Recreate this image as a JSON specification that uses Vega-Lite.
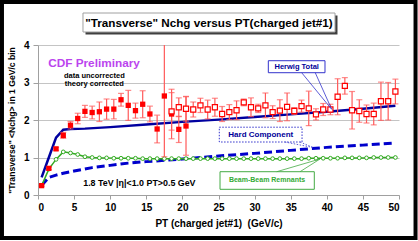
{
  "$schema": "https://vega.github.io/schema/vega-lite/v6.json",
  "autosize": {"type": "none"},
  "width": 361,
  "height": 150,
  "padding": {"left": 38, "top": 45, "right": 19, "bottom": 46},
  "background": "white",
  "config": {
    "view": {"stroke": null},
    "font": "Liberation Sans",
    "axisX": {"values": [0,5,10,15,20,25,30,35,40,45,50], "grid": false, "domainColor": "#A0A0A0", "tickColor": "#A0A0A0", "tickSize": 4, "labelFontSize": 10, "labelFontWeight": "bold", "labelColor": "black", "labelPadding": 3, "titleFontSize": 10, "titleFontWeight": "bold", "titleColor": "black", "titlePadding": 6},
    "axisY": {"values": [0,1,2,3,4], "grid": true, "gridColor": "#C4C4C4", "domainColor": "#A0A0A0", "tickColor": "#A0A0A0", "tickSize": 5, "labelFontSize": 10, "labelFontWeight": "bold", "labelColor": "black", "labelPadding": 4, "titleFontSize": 8.6, "titleFontWeight": "bold", "titleColor": "black", "titlePadding": 7}
  },
  "datasets": {
    "note": [{"pt": 0, "v": 0}],
    "cdf": [
      {"pt":0.5,"v":0.25,"e":0.02,"kind":"filled"},
      {"pt":1.5,"v":0.71,"e":0.03,"kind":"filled"},
      {"pt":2.5,"v":1.23,"e":0.04,"kind":"filled"},
      {"pt":3.5,"v":1.59,"e":0.08,"kind":"filled"},
      {"pt":4.5,"v":1.86,"e":0.1,"kind":"filled"},
      {"pt":5.5,"v":2.04,"e":0.14,"kind":"filled"},
      {"pt":6.5,"v":2.23,"e":0.16,"kind":"filled"},
      {"pt":7.5,"v":2.2,"e":0.17,"kind":"filled"},
      {"pt":8.5,"v":2.22,"e":0.26,"kind":"filled"},
      {"pt":9.5,"v":2.29,"e":0.27,"kind":"filled"},
      {"pt":10.5,"v":2.29,"e":0.26,"kind":"filled"},
      {"pt":11.5,"v":2.54,"e":0.17,"kind":"filled"},
      {"pt":12.5,"v":2.39,"e":0.4,"kind":"filled"},
      {"pt":13.5,"v":2.25,"e":0.2,"kind":"filled"},
      {"pt":14.5,"v":2.42,"e":0.36,"kind":"filled"},
      {"pt":15.5,"v":2.16,"e":0.21,"kind":"filled"},
      {"pt":16.5,"v":1.76,"e":0.37,"kind":"filled"},
      {"pt":17.5,"v":2.64,"e":1.62,"kind":"filled"},
      {"pt":18.5,"v":2.16,"e":0.66,"kind":"filled"},
      {"pt":19.5,"v":1.75,"e":0.35,"kind":"filled"},
      {"pt":20.5,"v":1.84,"e":0.78,"kind":"filled"},
      {"pt":18.5,"v":2.23,"e":0.5,"kind":"open"},
      {"pt":19.5,"v":2.34,"e":0.25,"kind":"open"},
      {"pt":20.5,"v":2.3,"e":0.33,"kind":"open"},
      {"pt":21.5,"v":2.28,"e":0.2,"kind":"open"},
      {"pt":22.5,"v":2.39,"e":0.19,"kind":"open"},
      {"pt":23.5,"v":2.28,"e":0.25,"kind":"open"},
      {"pt":24.5,"v":2.34,"e":0.24,"kind":"open"},
      {"pt":25.5,"v":2.16,"e":0.2,"kind":"open"},
      {"pt":26.5,"v":2.21,"e":0.2,"kind":"open"},
      {"pt":27.5,"v":2.26,"e":0.25,"kind":"open"},
      {"pt":28.5,"v":2.47,"e":0.09,"kind":"open"},
      {"pt":29.5,"v":2.34,"e":0.25,"kind":"open"},
      {"pt":30.5,"v":2.31,"e":0.11,"kind":"open"},
      {"pt":31.5,"v":2.39,"e":0.33,"kind":"open"},
      {"pt":32.5,"v":2.21,"e":0.17,"kind":"open"},
      {"pt":33.5,"v":2.25,"e":0.29,"kind":"open"},
      {"pt":34.5,"v":2.35,"e":0.37,"kind":"open"},
      {"pt":35.5,"v":2.24,"e":0.09,"kind":"open"},
      {"pt":36.5,"v":2.37,"e":0.16,"kind":"open"},
      {"pt":37.5,"v":2.31,"e":0.46,"kind":"open"},
      {"pt":38.5,"v":2.15,"e":0.15,"kind":"open"},
      {"pt":39.5,"v":2.28,"e":0.16,"kind":"open"},
      {"pt":40.5,"v":2.28,"e":0.14,"kind":"open"},
      {"pt":41.5,"v":2.62,"e":0.48,"kind":"open"},
      {"pt":42.5,"v":2.91,"e":0.22,"kind":"open"},
      {"pt":43.5,"v":2.26,"e":0.5,"kind":"open"},
      {"pt":44.5,"v":2.24,"e":0.3,"kind":"open"},
      {"pt":45.5,"v":2.16,"e":0.24,"kind":"open"},
      {"pt":46.5,"v":2.16,"e":0.29,"kind":"open"},
      {"pt":47.5,"v":2.5,"e":0.51,"kind":"open"},
      {"pt":48.5,"v":2.5,"e":0.5,"kind":"open"},
      {"pt":49.5,"v":2.76,"e":0.33,"kind":"open"}
    ],
    "herwig": [
      {"pt":0.5,"v":0.47},{"pt":1.5,"v":1.0},{"pt":2.5,"v":1.53},{"pt":3.5,"v":1.74},{"pt":4.5,"v":1.76},{"pt":6.5,"v":1.77},{"pt":10,"v":1.81},{"pt":15,"v":1.88},{"pt":20,"v":1.95},{"pt":25,"v":2.01},{"pt":30,"v":2.08},{"pt":35,"v":2.15},{"pt":40,"v":2.22},{"pt":45,"v":2.3},{"pt":49.5,"v":2.38}
    ],
    "hard": [
      {"pt":0.5,"v":0.25},{"pt":1.5,"v":0.47},{"pt":2.5,"v":0.53},{"pt":3.5,"v":0.58},{"pt":5,"v":0.64},{"pt":7.5,"v":0.73},{"pt":10,"v":0.79},{"pt":12.5,"v":0.85},{"pt":15,"v":0.89},{"pt":20,"v":0.96},{"pt":25,"v":1.04},{"pt":30,"v":1.11},{"pt":35,"v":1.19},{"pt":40,"v":1.27},{"pt":45,"v":1.33},{"pt":49.5,"v":1.39}
    ],
    "bbr": [
      {"pt":0.5,"v":0.25},{"pt":1.5,"v":0.69},{"pt":2.5,"v":0.95},{"pt":3.5,"v":1.15},{"pt":4.5,"v":1.12},{"pt":5.5,"v":1.08},{"pt":6.5,"v":1.02},{"pt":7.5,"v":1.0},{"pt":8.5,"v":0.99},{"pt":9.5,"v":0.99},
      {"pt":10.5,"v":0.98},{"pt":11.5,"v":0.98},{"pt":12.5,"v":0.98},{"pt":13.5,"v":0.98},{"pt":14.5,"v":0.97},{"pt":15.5,"v":0.97},{"pt":16.5,"v":0.97},{"pt":17.5,"v":0.97},{"pt":18.5,"v":0.97},{"pt":19.5,"v":0.97},
      {"pt":20.5,"v":0.97},{"pt":21.5,"v":0.97},{"pt":22.5,"v":0.97},{"pt":23.5,"v":0.97},{"pt":24.5,"v":0.97},{"pt":25.5,"v":0.97},{"pt":26.5,"v":0.97},{"pt":27.5,"v":0.97},{"pt":28.5,"v":0.97},{"pt":29.5,"v":0.97},
      {"pt":30.5,"v":0.97},{"pt":31.5,"v":0.97},{"pt":32.5,"v":0.97},{"pt":33.5,"v":0.97},{"pt":34.5,"v":0.97},{"pt":35.5,"v":0.97},{"pt":36.5,"v":0.97},{"pt":37.5,"v":0.98},{"pt":38.5,"v":0.98},{"pt":39.5,"v":0.98},
      {"pt":40.5,"v":0.98},{"pt":41.5,"v":0.98},{"pt":42.5,"v":0.99},{"pt":43.5,"v":0.99},{"pt":44.5,"v":0.99},{"pt":45.5,"v":0.99},{"pt":46.5,"v":1.0},{"pt":47.5,"v":1.0},{"pt":48.5,"v":1.0},{"pt":49.5,"v":1.0}
    ]
  },
  "encoding": {
    "x": {"field": "pt", "type": "quantitative", "scale": {"domain": [0, 50], "nice": false}, "axis": {"title": "PT (charged jet#1)\u00a0 (GeV/c)"}},
    "y": {"field": "v", "type": "quantitative", "scale": {"domain": [0, 4], "nice": false}, "axis": {"title": "\"Transverse\" <Nchg> in 1 GeV/c bin"}}
  },
  "layer": [
    {"data": {"name": "note"}, "mark": {"type": "rect", "filled": false, "stroke": "black", "strokeWidth": 4, "clip": false},
     "encoding": {"x": {"datum": -4.99, "type": "quantitative"}, "x2": {"datum": 52.29}, "y": {"datum": 5.147, "type": "quantitative"}, "y2": {"datum": -1.147}}},
    {"data": {"name": "note"}, "mark": {"type": "rect", "fill": "#404040", "clip": false},
     "encoding": {"x": {"datum": 6.58, "type": "quantitative"}, "x2": {"datum": 41.48}, "y": {"datum": 4.787, "type": "quantitative"}, "y2": {"datum": 4.28}}},
    {"data": {"name": "note"}, "mark": {"type": "rect", "fill": "white", "stroke": "#A0A0A0", "strokeWidth": 1, "clip": false},
     "encoding": {"x": {"datum": 6.23, "type": "quantitative"}, "x2": {"datum": 41.14}, "y": {"datum": 4.853, "type": "quantitative"}, "y2": {"datum": 4.347}}},
    {"data": {"name": "note"}, "mark": {"type": "text", "text": "\"Transverse\" Nchg versus PT(charged jet#1)", "fontSize": 11.7, "fontWeight": "bold", "color": "black", "clip": false},
     "encoding": {"x": {"datum": 23.68, "type": "quantitative"}, "y": {"datum": 4.6, "type": "quantitative"}}},
    {"data": {"name": "note"}, "mark": {"type": "text", "text": "CDF Preliminary", "fontSize": 11.8, "fontWeight": "bold", "color": "#BB44EE"},
     "encoding": {"x": {"datum": 7.76, "type": "quantitative"}, "y": {"datum": 3.512, "type": "quantitative"}}},
    {"data": {"name": "note"}, "mark": {"type": "text", "text": "data uncorrected", "fontSize": 7.5, "fontWeight": "bold", "color": "black"},
     "encoding": {"x": {"datum": 7.8, "type": "quantitative"}, "y": {"datum": 3.181, "type": "quantitative"}}},
    {"data": {"name": "note"}, "mark": {"type": "text", "text": "theory corrected", "fontSize": 7.5, "fontWeight": "bold", "color": "black"},
     "encoding": {"x": {"datum": 7.8, "type": "quantitative"}, "y": {"datum": 2.952, "type": "quantitative"}}},
    {"data": {"name": "note"}, "mark": {"type": "text", "text": "1.8 TeV |η|<1.0 PT>0.5 GeV", "fontSize": 8.9, "fontWeight": "bold", "color": "black"},
     "encoding": {"x": {"datum": 14.04, "type": "quantitative"}, "y": {"datum": 0.312, "type": "quantitative"}}},
    {"data": {"name": "hard"}, "mark": {"type": "line", "color": "#0000CC", "strokeWidth": 3, "strokeDash": [8, 4]}},
    {"data": {"name": "herwig"}, "mark": {"type": "line", "color": "#0000A0", "strokeWidth": 2.5}},
    {"data": {"name": "bbr"}, "mark": {"type": "line", "color": "#33AA22", "strokeWidth": 1.5}},
    {"data": {"name": "bbr"}, "mark": {"type": "point", "shape": "circle", "size": 14, "fill": "white", "filled": true, "stroke": "#33AA22", "strokeWidth": 1, "opacity": 1}},
    {"data": {"name": "cdf"}, "mark": {"type": "errorbar", "color": "#FF5A5A", "thickness": 1.2, "ticks": {"size": 6, "thickness": 1.2, "color": "#FF5A5A"}, "clip": true},
     "encoding": {"yError": {"field": "e"}}},
    {"data": {"name": "cdf"}, "transform": [{"filter": "datum.kind == 'filled'"}], "mark": {"type": "square", "size": 28, "color": "#FF0000", "opacity": 1}},
    {"data": {"name": "cdf"}, "transform": [{"filter": "datum.kind == 'open'"}], "mark": {"type": "point", "shape": "square", "size": 26, "filled": true, "fill": "white", "stroke": "#FF0000", "strokeWidth": 1.2, "opacity": 1}},
    {"data": {"name": "note"}, "mark": {"type": "rect", "fill": "white", "stroke": "#3333CC", "strokeWidth": 1},
     "encoding": {"x": {"datum": 31.9, "type": "quantitative"}, "x2": {"datum": 39.75}, "y": {"datum": 3.581, "type": "quantitative"}, "y2": {"datum": 3.261}}},
    {"data": {"name": "note"}, "mark": {"type": "text", "text": "Herwig Total", "fontSize": 7.5, "fontWeight": "bold", "color": "#000099"},
     "encoding": {"x": {"datum": 35.83, "type": "quantitative"}, "y": {"datum": 3.42, "type": "quantitative"}}},
    {"data": {"name": "note"}, "mark": {"type": "rule", "stroke": "#3333CC", "strokeWidth": 0.8},
     "encoding": {"x": {"datum": 36.52, "type": "quantitative"}, "y": {"datum": 3.261, "type": "quantitative"}, "x2": {"datum": 40.68}, "y2": {"datum": 2.285}}},
    {"data": {"name": "note"}, "mark": {"type": "rule", "stroke": "#3333CC", "strokeWidth": 0.8},
     "encoding": {"x": {"datum": 38.4, "type": "quantitative"}, "y": {"datum": 3.261, "type": "quantitative"}, "x2": {"datum": 40.68}, "y2": {"datum": 2.285}}},
    {"data": {"name": "note"}, "mark": {"type": "rect", "fill": "white", "stroke": "#3333CC", "strokeWidth": 1, "strokeDash": [1.5, 1.5]},
     "encoding": {"x": {"datum": 25.11, "type": "quantitative"}, "x2": {"datum": 36.57}, "y": {"datum": 1.808, "type": "quantitative"}, "y2": {"datum": 1.413}}},
    {"data": {"name": "note"}, "mark": {"type": "text", "text": "Hard Component", "fontSize": 8, "fontWeight": "bold", "color": "#000099"},
     "encoding": {"x": {"datum": 30.85, "type": "quantitative"}, "y": {"datum": 1.613, "type": "quantitative"}}},
    {"data": {"name": "note"}, "mark": {"type": "rule", "stroke": "#3333CC", "strokeWidth": 0.8, "strokeDash": [1.5, 1.5]},
     "encoding": {"x": {"datum": 34.2, "type": "quantitative"}, "y": {"datum": 1.413, "type": "quantitative"}, "x2": {"datum": 38.09}, "y2": {"datum": 1.267}}},
    {"data": {"name": "note"}, "mark": {"type": "rule", "stroke": "#3333CC", "strokeWidth": 0.8, "strokeDash": [1.5, 1.5]},
     "encoding": {"x": {"datum": 36.3, "type": "quantitative"}, "y": {"datum": 1.413, "type": "quantitative"}, "x2": {"datum": 38.09}, "y2": {"datum": 1.267}}},
    {"data": {"name": "note"}, "mark": {"type": "rect", "fill": "white", "stroke": "#44AA44", "strokeWidth": 1},
     "encoding": {"x": {"datum": 25.21, "type": "quantitative"}, "x2": {"datum": 38.27}, "y": {"datum": 0.621, "type": "quantitative"}, "y2": {"datum": 0.152}}},
    {"data": {"name": "note"}, "mark": {"type": "text", "text": "Beam-Beam Remnants", "fontSize": 7, "fontWeight": "bold", "color": "#33AA33"},
     "encoding": {"x": {"datum": 31.72, "type": "quantitative"}, "y": {"datum": 0.387, "type": "quantitative"}}},
    {"data": {"name": "note"}, "mark": {"type": "rule", "stroke": "#44AA44", "strokeWidth": 0.8},
     "encoding": {"x": {"datum": 33.06, "type": "quantitative"}, "y": {"datum": 0.621, "type": "quantitative"}, "x2": {"datum": 39.06}, "y2": {"datum": 0.96}}},
    {"data": {"name": "note"}, "mark": {"type": "rule", "stroke": "#44AA44", "strokeWidth": 0.8},
     "encoding": {"x": {"datum": 36.29, "type": "quantitative"}, "y": {"datum": 0.621, "type": "quantitative"}, "x2": {"datum": 39.06}, "y2": {"datum": 0.96}}}
  ]
}
